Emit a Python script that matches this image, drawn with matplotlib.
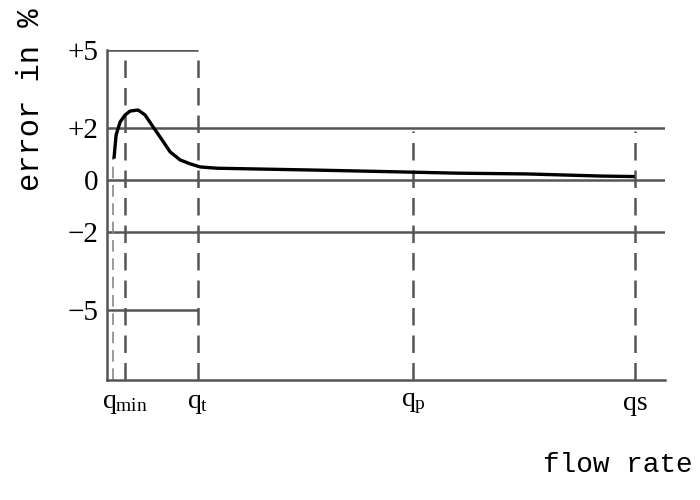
import matplotlib.pyplot as plt

# positions des débits sur l'axe (unités arbitraires)
q_noms = ["$q_{\\rm min}$", "$q_{\\rm t}$", "$q_{\\rm p}$", "qs"]
q_pos = [1.8, 9.1, 30.6, 52.8]

# graduations de l'erreur
y_ticks = [5, 2, 0, -2, -5]
y_labels = ["+5", "+2", "0", "\u22122", "\u22125"]

# courbe d'erreur
courbe_x = [0.7, 0.9, 1.3, 1.8, 2.3, 3.1, 3.8, 4.6, 5.5, 6.3, 7.3, 8.3, 9.3,
            11.0, 20.6, 28.0, 35.0, 42.0, 49.3, 52.6]
courbe_y = [0.88, 1.73, 2.23, 2.5, 2.65, 2.69, 2.5, 2.04, 1.54, 1.08, 0.77,
            0.62, 0.5, 0.45, 0.38, 0.32, 0.26, 0.23, 0.15, 0.13]

plt.rcParams["font.family"] = ["Liberation Serif", "DejaVu Serif"]
plt.rcParams["mathtext.fontset"] = "custom"
plt.rcParams["mathtext.rm"] = "Liberation Serif"
plt.rcParams["mathtext.it"] = "Liberation Serif"

fig = plt.figure(figsize=(7, 5), dpi=100)
ax = fig.add_axes([0.153, 0.24, 0.797, 0.66])
x_max = 55.8
y_min = -7.7
ax.set_xlim(0, x_max)
ax.set_ylim(y_min, 5)

gris = "#555555"
# lignes horizontales
ax.hlines([2, 0, -2], 0, x_max, color=gris, linewidth=1.8)
ax.hlines([5, -5], 0, q_pos[1], color=gris, linewidth=1.8)

# lignes verticales en tirets
tirets = (0, (7, 4))
ax.vlines(q_pos[:2], y_min, 5, color=gris, linewidth=1.8, linestyles=[tirets])
ax.vlines(q_pos[2:], y_min, 1.9, color=gris, linewidth=1.8, linestyles=[tirets])
ax.vlines([0.6], y_min, 0.9, color="#888888", linewidth=1.2, linestyles=[tirets])

# courbe
ax.plot(courbe_x, courbe_y, color="black", linewidth=2.4)

for cote in ["top", "right"]:
    ax.spines[cote].set_visible(False)
for cote in ["left", "bottom"]:
    ax.spines[cote].set_color(gris)
    ax.spines[cote].set_linewidth(1.8)

ax.set_yticks(y_ticks, y_labels, fontsize=21)
ax.set_xticks(q_pos, q_noms, fontsize=20)
ax.tick_params(length=0, pad=6)
ax.tick_params(axis="x", pad=8)

fig.text(0.045, 0.8, "error in %", rotation=90, fontsize=22,
         family="Liberation Mono", ha="center", va="center")
fig.text(0.99, 0.07, "flow rate", fontsize=20, family="Liberation Mono",
         ha="right", va="center")

fig.savefig("out.png", dpi=100)
